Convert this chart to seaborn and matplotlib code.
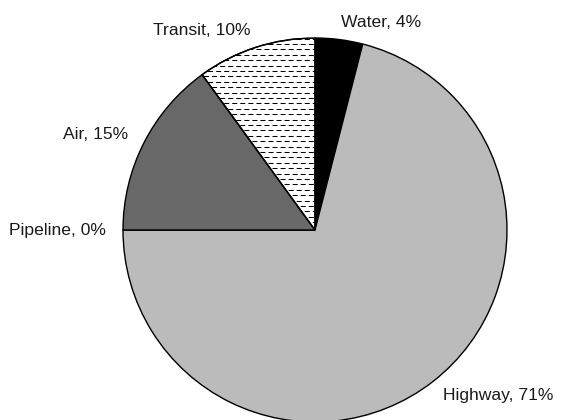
import matplotlib
matplotlib.use("Agg")
import matplotlib.pyplot as plt
import numpy as np
import seaborn as sns

categories = ["Water", "Highway", "Pipeline", "Air", "Transit"]
shares = [4, 71, 0, 15, 10]
colors = ["#000000", "#bbbbbb", "#ffffff", "#686868", "#ffffff"]
dashed_fill = [False, False, False, False, True]

sns.set_theme(style="white")
plt.rcParams["font.family"] = ["Liberation Sans", "DejaVu Sans"]
plt.rcParams["lines.scale_dashes"] = False

fig = plt.figure(figsize=(5.62, 4.2), dpi=100)
ax = fig.add_axes([123 / 562, -2 / 420, 384 / 562, 384 / 420])
labels = [f"{c}, {v}%" for c, v in zip(categories, shares)]
wedges, texts = ax.pie(shares, labels=labels, colors=colors, startangle=90,
                       counterclock=False, labeldistance=1.09,
                       wedgeprops=dict(edgecolor="black", linewidth=1),
                       textprops=dict(fontsize=12.6, color="#1a1a1a"))
ax.set_xlim(-1, 1)
ax.set_ylim(-1, 1)
ax.set_aspect("equal")

# dashed horizontal fill pattern for the flagged wedge(s)
step = 5.4 / 192
for w, flag in zip(wedges, dashed_fill):
    if not flag:
        continue
    for i, yy in enumerate(np.arange(-1, 1, step)):
        off = 0 if i % 2 == 0 else 2.9
        ln, = ax.plot([-1, 1], [yy, yy], color="black", linewidth=0.75,
                      linestyle=(off, (3.6, 2.2)), zorder=w.get_zorder() + 0.1)
        ln.set_clip_path(w)
    edge = matplotlib.patches.Wedge(w.center, w.r, w.theta1, w.theta2,
                                    facecolor="none", edgecolor="black",
                                    linewidth=1, zorder=w.get_zorder() + 0.2)
    ax.add_patch(edge)

fig.savefig("out.png", dpi=100)
